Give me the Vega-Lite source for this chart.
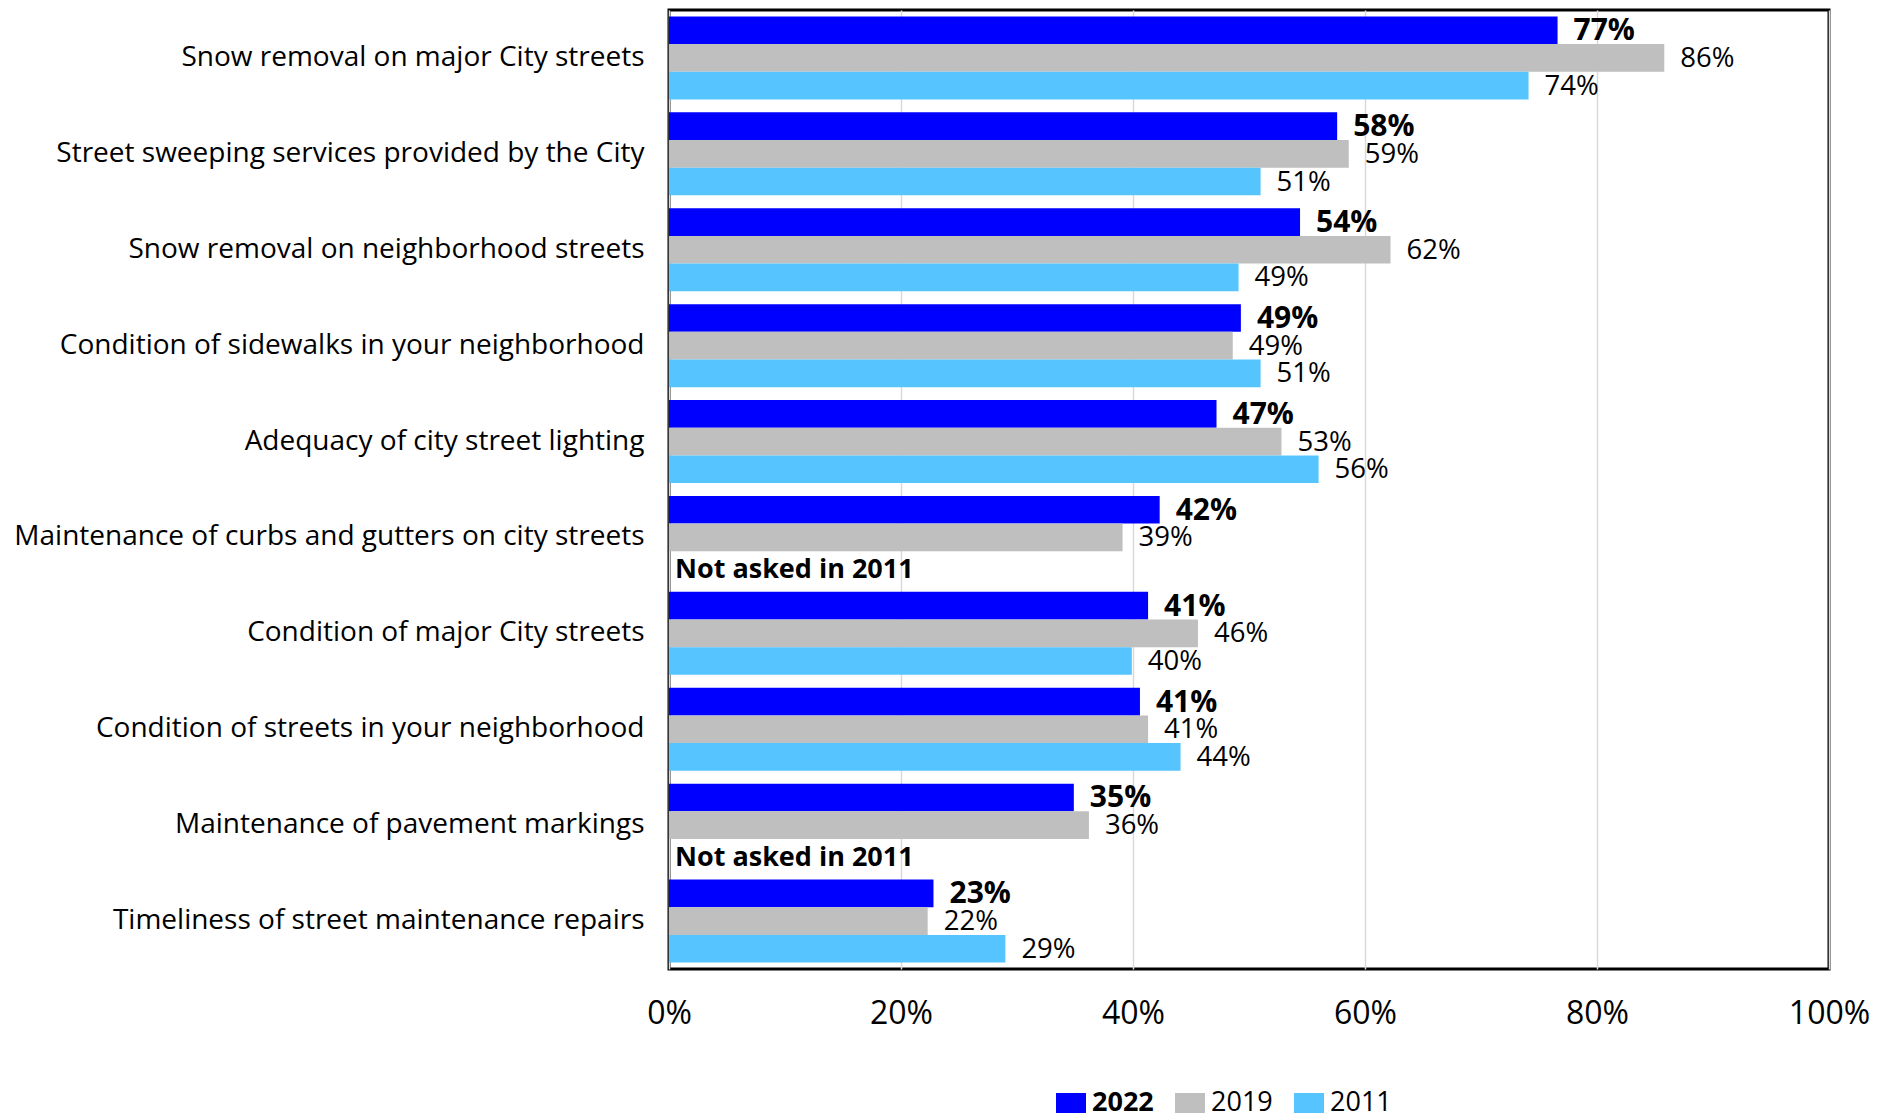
{
  "$schema": "https://vega.github.io/schema/vega-lite/v6.json",
  "autosize": {"type": "none"},
  "width": 1160,
  "height": 959,
  "padding": {"left": 669, "top": 10, "right": 63, "bottom": 149},
  "background": "white",
  "config": {
    "font": "Open Sans",
    "view": {"stroke": "black", "strokeWidth": 3},
    "axis": {"labelColor": "black", "labelFont": "Open Sans"},
    "legend": {"labelFont": "Open Sans"}
  },
  "data": {
    "values": [
      {"item": "Snow removal on major City streets", "year": "2022", "value": 0.766},
      {"item": "Snow removal on major City streets", "year": "2019", "value": 0.858},
      {"item": "Snow removal on major City streets", "year": "2011", "value": 0.741},
      {"item": "Street sweeping services provided by the City", "year": "2022", "value": 0.576},
      {"item": "Street sweeping services provided by the City", "year": "2019", "value": 0.586},
      {"item": "Street sweeping services provided by the City", "year": "2011", "value": 0.51},
      {"item": "Snow removal on neighborhood streets ", "year": "2022", "value": 0.544},
      {"item": "Snow removal on neighborhood streets ", "year": "2019", "value": 0.622},
      {"item": "Snow removal on neighborhood streets ", "year": "2011", "value": 0.491},
      {"item": "Condition of sidewalks in your neighborhood", "year": "2022", "value": 0.493},
      {"item": "Condition of sidewalks in your neighborhood", "year": "2019", "value": 0.486},
      {"item": "Condition of sidewalks in your neighborhood", "year": "2011", "value": 0.51},
      {"item": "Adequacy of city street lighting", "year": "2022", "value": 0.472},
      {"item": "Adequacy of city street lighting", "year": "2019", "value": 0.528},
      {"item": "Adequacy of city street lighting", "year": "2011", "value": 0.56},
      {"item": "Maintenance of curbs and gutters on city streets", "year": "2022", "value": 0.423},
      {"item": "Maintenance of curbs and gutters on city streets", "year": "2019", "value": 0.391},
      {"item": "Maintenance of curbs and gutters on city streets", "year": "2011", "value": null, "note": "Not asked in 2011"},
      {"item": "Condition of major City streets", "year": "2022", "value": 0.413},
      {"item": "Condition of major City streets", "year": "2019", "value": 0.456},
      {"item": "Condition of major City streets", "year": "2011", "value": 0.399},
      {"item": "Condition of streets in your neighborhood", "year": "2022", "value": 0.406},
      {"item": "Condition of streets in your neighborhood", "year": "2019", "value": 0.413},
      {"item": "Condition of streets in your neighborhood", "year": "2011", "value": 0.441},
      {"item": "Maintenance of pavement markings", "year": "2022", "value": 0.349},
      {"item": "Maintenance of pavement markings", "year": "2019", "value": 0.362},
      {"item": "Maintenance of pavement markings", "year": "2011", "value": null, "note": "Not asked in 2011"},
      {"item": "Timeliness of street maintenance repairs", "year": "2022", "value": 0.228},
      {"item": "Timeliness of street maintenance repairs", "year": "2019", "value": 0.223},
      {"item": "Timeliness of street maintenance repairs", "year": "2011", "value": 0.29}
    ]
  },
  "encoding": {
    "y": {
      "field": "item",
      "type": "nominal",
      "sort": null,
      "scale": {"paddingInner": 0.135, "paddingOuter": 0.0675},
      "axis": {
        "title": null,
        "domain": false,
        "ticks": false,
        "labelFontSize": 28,
        "labelPadding": 25,
        "labelLimit": 0
      }
    },
    "yOffset": {
      "field": "year",
      "type": "nominal",
      "sort": ["2022", "2019", "2011"],
      "scale": {"paddingInner": 0, "paddingOuter": 0}
    }
  },
  "layer": [
    {
      "mark": {"type": "bar"},
      "encoding": {
        "x": {
          "field": "value",
          "type": "quantitative",
          "scale": {"domain": [0, 1], "nice": false},
          "axis": {
            "title": null,
            "format": ".0%",
            "values": [0, 0.2, 0.4, 0.6, 0.8, 1],
            "domain": false,
            "ticks": false,
            "grid": true,
            "gridColor": "#d9d9d9",
            "gridWidth": 1.5,
            "labelFontSize": 32,
            "labelPadding": 29,
            "labelFlush": false
          }
        },
        "color": {
          "field": "year",
          "type": "nominal",
          "sort": ["2022", "2019", "2011"],
          "scale": {"domain": ["2022", "2019", "2011"], "range": ["#0000FF", "#BFBFBF", "#56C5FF"]},
          "legend": {
            "title": null,
            "orient": "none",
            "direction": "horizontal",
            "legendX": 387,
            "legendY": 1078,
            "padding": 0,
            "symbolType": "M-1,-0.667H1V0.667H-1Z",
            "symbolSize": 900,
            "symbolStrokeWidth": 0,
            "symbolOpacity": 1,
            "labelFontSize": 27,
            "labelColor": "black",
            "labelOffset": 6,
            "columnPadding": 21,
            "encode": {
              "labels": {
                "update": {
                  "fontWeight": {"signal": "datum.label === '2022' ? 'bold' : 'normal'"}
                }
              }
            }
          }
        }
      }
    },
    {
      "transform": [{"filter": "datum.value != null && datum.year === '2022'"}],
      "mark": {"type": "text", "align": "left", "baseline": "middle", "dx": 16, "dy": 1, "fontSize": 30, "fontWeight": "bold", "color": "black"},
      "encoding": {
        "x": {"field": "value", "type": "quantitative"},
        "text": {"field": "value", "type": "quantitative", "format": ".0%"}
      }
    },
    {
      "transform": [{"filter": "datum.value != null && datum.year !== '2022'"}],
      "mark": {"type": "text", "align": "left", "baseline": "middle", "dx": 16, "dy": 1, "fontSize": 27.5, "color": "black"},
      "encoding": {
        "x": {"field": "value", "type": "quantitative"},
        "text": {"field": "value", "type": "quantitative", "format": ".0%"}
      }
    },
    {
      "transform": [{"filter": "datum.note != null"}],
      "mark": {"type": "text", "align": "left", "baseline": "middle", "dx": 6, "dy": 5, "fontSize": 27, "fontWeight": "bold", "color": "black"},
      "encoding": {
        "x": {"datum": 0, "type": "quantitative"},
        "text": {"field": "note", "type": "nominal"}
      }
    }
  ]
}
